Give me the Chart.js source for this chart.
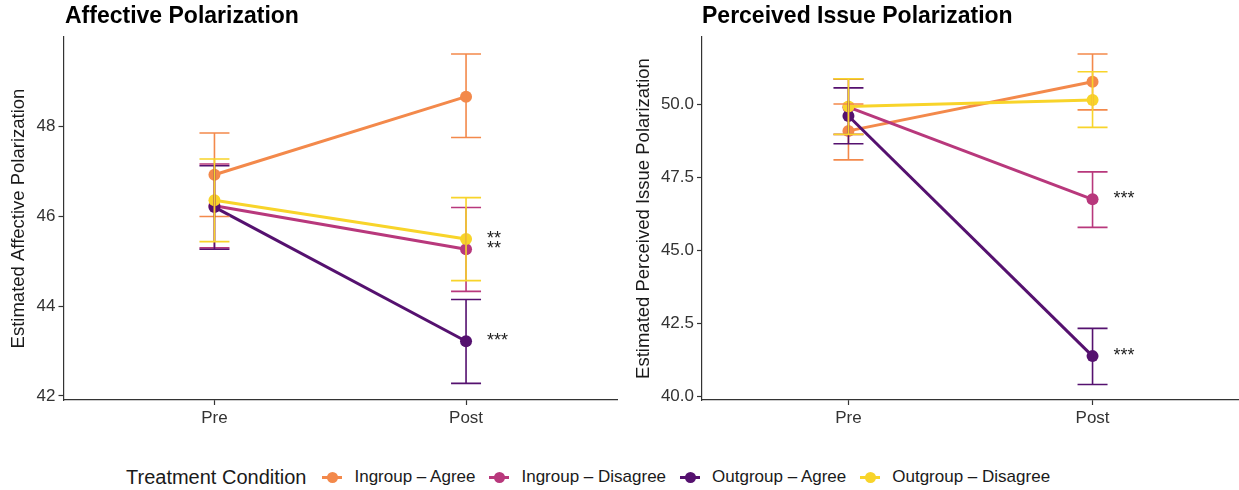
<!DOCTYPE html>
<html>
<head>
<meta charset="utf-8">
<script src="https://cdn.jsdelivr.net/npm/chart.js@4.4.0/dist/chart.umd.min.js"></script>
<style>
  body { margin: 0; background: #fff; font-family: 'Liberation Sans', Arial, sans-serif; }
  #wrap { position: relative; width: 1239px; height: 490px; overflow: hidden; }
  .panel { position: absolute; top: 0; height: 440px; }
  .ptitle { position: absolute; top: 4px; font-weight: bold; font-size: 23px; line-height: 23px; color: #000; white-space: nowrap; }
  #legend { position: absolute; left: 126px; top: 465px; height: 24px; display: flex; align-items: center; color: #1a1a1a; white-space: nowrap; }
  #legend .ltitle { font-size: 20px; margin-right: 16px; }
  #legend .item { display: flex; align-items: center; font-size: 17px; margin-right: 14px; }
  #legend .key { position: relative; width: 20px; height: 14px; margin-right: 12px; }
  #legend .key::before { content: ''; position: absolute; left: 0; right: 0; top: 6px; height: 2.5px; background: var(--c); }
  #legend .key::after { content: ''; position: absolute; left: 4.5px; top: 1.5px; width: 11px; height: 11px; border-radius: 50%; background: var(--c); }
</style>
</head>
<body>
<div id="wrap">
  <div class="panel" style="left:0;width:620px"><canvas id="affChart"></canvas></div>
  <div class="panel" style="left:620px;width:619px"><canvas id="issueChart"></canvas></div>
  <div class="ptitle" style="left:65px">Affective Polarization</div>
  <div class="ptitle" style="left:702px">Perceived Issue Polarization</div>
  <div id="legend"><span class="ltitle">Treatment Condition</span></div>
</div>
<script>
// ─── Data ────────────────────────────────────────────────────────────────────
const categories = ['Pre', 'Post'];
const conditions = ['Ingroup – Agree', 'Ingroup – Disagree', 'Outgroup – Agree', 'Outgroup – Disagree'];
const colors = ['#F3894B', '#B8387C', '#55116F', '#F8D42A'];

// Affective polarization: estimates and 95% CI bounds, [Pre, Post] per condition
const affMean = [[46.93, 48.67], [46.24, 45.27], [46.21, 43.22], [46.36, 45.50]];
const affLow  = [[46.00, 47.76], [45.30, 44.33], [45.27, 42.28], [45.44, 44.57]];
const affHigh = [[47.86, 49.62], [47.17, 46.20], [47.13, 44.15], [47.28, 46.42]];
const affStars = ['', '**', '***', '**'];
const affTicks = [42, 44, 46, 48];

// Perceived issue polarization
const issueMean = [[49.09, 50.77], [49.90, 46.75], [49.60, 41.39], [49.92, 50.15]];
const issueLow  = [[48.10, 49.81], [48.97, 45.79], [48.65, 40.42], [48.97, 49.21]];
const issueHigh = [[50.01, 51.72], [50.86, 47.69], [50.56, 42.34], [50.87, 51.11]];
const issueStars = ['', '***', '***', ''];
const issueTicks = [40.0, 42.5, 45.0, 47.5, 50.0];

// ─── Legend ──────────────────────────────────────────────────────────────────
const legendEl = document.getElementById('legend');
conditions.forEach((name, i) => {
  const item = document.createElement('span');
  item.className = 'item';
  item.innerHTML = `<span class="key" style="--c:${colors[i]}"></span>${name}`;
  legendEl.appendChild(item);
});

// ─── Error bars + significance stars ────────────────────────────────────────
function errorBarPlugin(low, high, stars) {
  return {
    id: 'errorBars',
    afterDatasetsDraw(chart) {
      const { ctx, scales: { x, y } } = chart;
      ctx.save();
      chart.data.datasets.forEach((ds, i) => {
        ctx.strokeStyle = ds.borderColor;
        ctx.lineWidth = 1.6;
        low[i].forEach((lo, j) => {
          const px = x.getPixelForValue(j + 1);
          const y1 = y.getPixelForValue(lo);
          const y2 = y.getPixelForValue(high[i][j]);
          ctx.beginPath();
          ctx.moveTo(px, y1); ctx.lineTo(px, y2);
          ctx.moveTo(px - 15, y1); ctx.lineTo(px + 15, y1);
          ctx.moveTo(px - 15, y2); ctx.lineTo(px + 15, y2);
          ctx.stroke();
        });
      });
      ctx.fillStyle = '#222';
      ctx.font = '18px "Liberation Sans", Arial, sans-serif';
      ctx.textAlign = 'left';
      ctx.textBaseline = 'middle';
      chart.data.datasets.forEach((ds, i) => {
        if (!stars[i]) return;
        const last = ds.data[ds.data.length - 1];
        ctx.fillText(stars[i], x.getPixelForValue(last.x) + 21, y.getPixelForValue(last.y));
      });
      ctx.restore();
    },
  };
}

// ─── Chart builder ──────────────────────────────────────────────────────────
const axisFont = { family: "'Liberation Sans', Arial, sans-serif", size: 17 };

function makeChart(id, mean, low, high, stars, ticks, yMin, yMax, yTitle, axisWidth, titlePad, padRight, fmt) {
  new Chart(document.getElementById(id), {
    type: 'line',
    data: {
      datasets: conditions.map((name, i) => ({
        label: name,
        data: mean[i].map((v, j) => ({ x: j + 1, y: v })),
        borderColor: colors[i],
        backgroundColor: colors[i],
        pointBackgroundColor: colors[i],
        borderWidth: 3,
        pointRadius: 6,
        pointBorderWidth: 0,
        tension: 0,
        order: conditions.length - i,
      })),
    },
    options: {
      responsive: true,
      maintainAspectRatio: false,
      animation: false,
      events: [],
      layout: { autoPadding: false, padding: { left: 0, right: padRight, top: 37, bottom: 0 } },
      plugins: { legend: { display: false }, tooltip: { enabled: false } },
      scales: {
        x: {
          type: 'linear',
          min: 0.4, max: 2.6,
          afterBuildTicks: (s) => { s.ticks = categories.map((c, i) => ({ value: i + 1 })); },
          afterFit: (s) => { s.height = 40; s.paddingLeft = 0; s.paddingRight = 0; },
          grid: { drawOnChartArea: false, drawTicks: true, tickLength: 5, tickColor: '#333', tickWidth: 1.2 },
          border: { display: true, color: '#333', width: 1.2 },
          ticks: { color: '#333', font: axisFont, padding: 3, callback: (v) => categories[v - 1] },
        },
        y: {
          min: yMin, max: yMax,
          afterBuildTicks: (s) => { s.ticks = ticks.map((v) => ({ value: v })); },
          afterFit: (s) => { s.width = axisWidth; },
          grid: { drawOnChartArea: false, drawTicks: true, tickLength: 5, tickColor: '#333', tickWidth: 1.2 },
          border: { display: true, color: '#333', width: 1.2 },
          ticks: { color: '#333', font: axisFont, padding: 3, callback: fmt },
          title: {
            display: true, text: yTitle, color: '#1a1a1a',
            font: { family: "'Liberation Sans', Arial, sans-serif", size: 18.5 },
            padding: { top: titlePad, bottom: 0 },
          },
        },
      },
    },
    plugins: [errorBarPlugin(low, high, stars)],
  });
}

makeChart('affChart', affMean, affLow, affHigh, affStars, affTicks, 41.91, 50.0,
  'Estimated Affective Polarization', 63.5, 7.5, 3, (v) => v.toFixed(0));
makeChart('issueChart', issueMean, issueLow, issueHigh, issueStars, issueTicks, 39.89, 52.3,
  'Estimated Perceived Issue Polarization', 82, 12.5, 0, (v) => v.toFixed(1));
</script>
</body>
</html>
